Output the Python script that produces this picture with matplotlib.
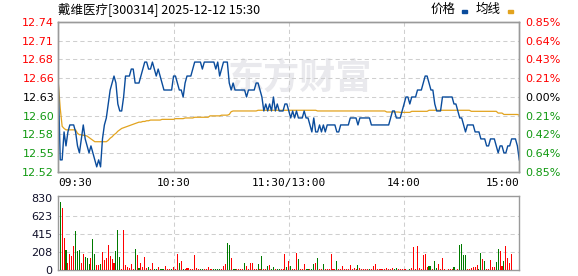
import matplotlib
matplotlib.use("Agg")
import matplotlib.pyplot as plt
from matplotlib.patches import Rectangle

plt.rcParams['font.family'] = ['Noto Sans CJK SC', 'DejaVu Sans']

# --- data ---
stock_title = "戴维医疗[300314] 2025-12-12 15:30"
legend_names = ["价格", "均线"]
prev_close = 12.63
max_pct = 0.85
time_labels = ["09:30", "10:30", "11:30/13:00", "14:00", "15:00"]
vol_ticks = [0, 208, 415, 623, 830]

price = [
    12.65, 12.54, 12.54, 12.58, 12.56, 12.58, 12.59, 12.59, 12.59, 12.58,
    12.56, 12.55, 12.57, 12.59, 12.57, 12.56, 12.55, 12.56, 12.55, 12.54,
    12.53, 12.54, 12.53, 12.57, 12.59, 12.60, 12.62, 12.64, 12.65, 12.66,
    12.65, 12.62, 12.61, 12.61, 12.63, 12.66, 12.66, 12.66, 12.67, 12.67,
    12.65, 12.65, 12.65, 12.66, 12.67, 12.68, 12.68, 12.67, 12.67, 12.68,
    12.67, 12.66, 12.67, 12.66, 12.65, 12.64, 12.64, 12.64, 12.64, 12.64,
    12.66, 12.66, 12.65, 12.64, 12.64, 12.63, 12.65, 12.66, 12.66, 12.66,
    12.67, 12.68, 12.68, 12.68, 12.68, 12.67, 12.68, 12.68, 12.68, 12.68,
    12.68, 12.68, 12.67, 12.68, 12.66, 12.67, 12.68, 12.68, 12.68, 12.65,
    12.64, 12.65, 12.64, 12.64, 12.64, 12.64, 12.64, 12.64, 12.63, 12.64,
    12.64, 12.64, 12.64, 12.65, 12.65, 12.64, 12.63, 12.61, 12.62, 12.61,
    12.62, 12.61, 12.63, 12.61, 12.62, 12.61, 12.61, 12.61, 12.62, 12.62,
    12.61, 12.60, 12.61, 12.60, 12.61, 12.60, 12.60, 12.60, 12.61, 12.60,
    12.60, 12.59, 12.58, 12.60, 12.58, 12.58, 12.59, 12.58, 12.59, 12.58,
    12.59, 12.59, 12.59, 12.59, 12.59, 12.58, 12.58, 12.59, 12.59, 12.59,
    12.59, 12.59, 12.60, 12.60, 12.60, 12.60, 12.59, 12.60, 12.60, 12.60,
    12.60, 12.60, 12.60, 12.59, 12.59, 12.59, 12.59, 12.59, 12.59, 12.59,
    12.59, 12.59, 12.59, 12.60, 12.61, 12.61, 12.60, 12.60, 12.60, 12.61,
    12.62, 12.63, 12.63, 12.62, 12.63, 12.63, 12.63, 12.64, 12.64, 12.64,
    12.65, 12.66, 12.66, 12.65, 12.64, 12.64, 12.62, 12.61, 12.61, 12.61,
    12.63, 12.63, 12.63, 12.63, 12.63, 12.63, 12.62, 12.62, 12.61, 12.60,
    12.60, 12.59, 12.58, 12.59, 12.59, 12.59, 12.59, 12.58, 12.58, 12.58,
    12.57, 12.57, 12.57, 12.56, 12.56, 12.57, 12.57, 12.57, 12.56, 12.55,
    12.56, 12.56, 12.55, 12.55, 12.56, 12.56, 12.57, 12.57, 12.57, 12.56,
    12.54,
]

avg_price = (
    [12.650, 12.614, 12.588, 12.585] + [12.583] * 6
    + [12.578, 12.576, 12.576, 12.575, 12.575, 12.574, 12.572, 12.570, 12.568]
    + [12.566] * 7
    + [12.568, 12.571, 12.573, 12.576, 12.578, 12.581, 12.583, 12.585, 12.586,
       12.587, 12.588, 12.589, 12.590, 12.591, 12.592, 12.593, 12.594, 12.594,
       12.595, 12.595, 12.596, 12.596]
    + [12.597] * 6 + [12.598] * 7
    + [12.599] * 5 + [12.600] * 5 + [12.601] * 8 + [12.603] * 6
    + [12.604] * 4 + [12.605, 12.609]
    + [12.610] * 13 + [12.611] * 31
    + [12.610] * 36 + [12.6085] * 7
    + [12.608] * 6 + [12.6095] * 9 + [12.611] * 22 + [12.6095] * 14
    + [12.607] * 3 + [12.605] * 8 + [12.604]
)

volume = [
    0,
    785, 716, 370, 231, 81, 185, 162, 277, 450, 219,
    231, 81, 185, 146, 139, 69, 139, 358, 185, 58,
    54, 69, 208, 115, 139, 289, 162, 127, 81, 219,
    462, 150, 12, 462, 58, 35, 23, 69, 12, 243,
    173, 23, 81, 35, 150, 23, 35, 12, 81, 12,
    12, 35, 12, 12, 12, 46, 12, 12, 12, 40,
    12, 185, 81, 104, 12, 12, 23, 23, 12, 12,
    173, 23, 12, 12, 12, 12, 12, 35, 12, 12,
    12, 12, 12, 12, 12, 46, 69, 312, 289, 139,
    12, 12, 12, 12, 12, 12, 81, 46, 12, 81,
    81, 12, 12, 69, 12, 162, 12, 12, 46, 58,
    12, 35, 12, 12, 12, 12, 12, 185, 35, 104,
    46, 12, 12, 196, 127, 12, 12, 69, 12, 12,
    12, 12, 69, 81, 139, 12, 12, 69, 12, 12,
    12, 185, 12, 12, 104, 12, 12, 46, 12, 12,
    12, 58, 12, 23, 12, 58, 23, 12, 12, 12,
    12, 12, 12, 46, 69, 12, 12, 12, 12, 12,
    23, 12, 12, 23, 12, 23, 12, 12, 12, 12,
    12, 0, 12, 23, 266, 12, 277, 23, 12, 173,
    185, 35, 46, 46, 12, 104, 23, 69, 12, 139,
    12, 0, 12, 12, 12, 35, 0, 12, 289, 300,
    173, 173, 12, 12, 23, 35, 35, 58, 12, 196,
    127, 104, 12, 12, 115, 35, 35, 92, 243, 220,
    46, 104, 277, 139, 81, 185, 0, 0, 0, 346,
]

# R = up minute, G = down minute
vol_dir = ("R"
           "GRRGRRRRGG" "GRRGGGRGGR" "RGRRRRRRRG" "GGRRRRRRRG" "RGRRRRGRRG"
           "GRGGGRRRGR" "RRGRGRRRRR" "RRRGGRRRRR" "GGGGRRRGGR" "GGRRRRGRRR"
           "RRRGRGRRGR" "GGRGGRRRGR" "GRRRGRRRGG" "RGGRGRRGRR" "RRRRGRRRRR"
           "RRRRRGRRRR" "RGRRRRRRRR" "RRRRGGRRRR" "RRGRRRRRRR" "RRGGRGGRRR"
           "RRRRRGRRGG" "GGRRRRRRGG" "RGRRRRRGGR" "RGRRRRRRRG")

n = len(price)

W, H = 578, 276
fig = plt.figure(figsize=(W / 100, H / 100), dpi=100)
fig.patch.set_facecolor('white')

grid_kw = dict(color='#cfcfcf', lw=0.75, ls=(0, (4, 3)), zorder=1)
spine_color = '#9a9a9a'
red, green, black = '#ff0000', '#119911', '#000000'

# price panel
ax = fig.add_axes([58.3 / W, 1 - 172 / H, 461 / W, 150 / H])
ax.set_facecolor('none')
x = list(range(n))
lo = prev_close * (1 - max_pct / 100)
hi = prev_close * (1 + max_pct / 100)
ax.set_xlim(0, n - 1)
ax.set_ylim(lo, hi)

yticks = [prev_close * (1 + k * max_pct / 400) for k in range(-4, 5)]
for yv in yticks[1:-1]:
    ax.axhline(yv, **grid_kw)
for xv in (60, 120, 180):
    ax.axvline(xv, **grid_kw)

ax.plot(x, avg_price, color='#e2a31e', lw=0.9, zorder=3)
ax.plot(x, price, color='#0a4c9c', lw=1.0, zorder=4)

ax.set_xticks([])
ax.set_yticks(yticks)
ax.set_yticklabels([f"{v:.2f}" for v in yticks])
ax.tick_params(axis='y', length=0, pad=3, labelsize=8)
for lab, v in zip(ax.get_yticklabels(), yticks):
    k = round((v - prev_close) / (prev_close * max_pct / 400))
    lab.set_color(red if k > 0 else (black if k == 0 else green))
    lab.set_fontfamily('DejaVu Sans')

ax2 = ax.twinx()
ax2.set_ylim(lo, hi)
ax2.set_yticks(yticks)
ax2.set_yticklabels([f"{abs(v - prev_close) / prev_close * 100:.2f}%" for v in yticks])
ax2.tick_params(axis='y', length=0, pad=4, labelsize=8)
for lab, v in zip(ax2.get_yticklabels(), yticks):
    k = round((v - prev_close) / (prev_close * max_pct / 400))
    lab.set_color(red if k > 0 else (black if k == 0 else green))
    lab.set_fontfamily('DejaVu Sans')

for a in (ax, ax2):
    for s in a.spines.values():
        s.set_color(spine_color)
        s.set_linewidth(1.0)

# time labels
tpos = [0, 60, 120, 180, 240]
aligns = ['left', 'center', 'center', 'center', 'right']
for t, lab, ha in zip(tpos, time_labels, aligns):
    ax.text(t, -0.075, lab, transform=ax.get_xaxis_transform(), ha=ha, va='center',
            fontsize=8, family='DejaVu Sans Mono', color='black')

# watermark
ax.text(300 / W, 1 - 78 / H, "东方财富", transform=fig.transFigure, ha='center',
        va='center', fontsize=26, fontweight='bold', color='#e9e9ed', zorder=0.5,
        family=['Noto Sans CJK SC'])

# volume panel
vax = fig.add_axes([58.3 / W, 1 - 270 / H, 461 / W, 74 / H])
vax.set_xlim(0, n - 1)
vax.set_ylim(0, 855)
for yv in vol_ticks[1:-1]:
    vax.axhline(yv, **grid_kw)
for xv in (60, 120, 180):
    vax.axvline(xv, **grid_kw)
colors = [red if d == 'R' else '#007a00' for d in vol_dir]
vax.bar(x, volume, width=0.55, color=colors, zorder=3)
vax.set_xticks([])
vax.set_yticks(vol_ticks)
vax.set_yticklabels([str(v) for v in vol_ticks])
vax.tick_params(axis='y', length=0, pad=4, labelsize=8, labelcolor='#10102a')
for lab in vax.get_yticklabels():
    lab.set_fontfamily('DejaVu Sans')
for s in vax.spines.values():
    s.set_color(spine_color)
    s.set_linewidth(1.0)

# title and legend
fig.text(58 / W, 1 - 9 / H, stock_title, ha='left', va='center', fontsize=9)
fig.text(443 / W, 1 - 9 / H, legend_names[0], ha='center', va='center', fontsize=9)
fig.text(488 / W, 1 - 9 / H, legend_names[1], ha='center', va='center', fontsize=9)
fig.patches.append(Rectangle((462 / W, 1 - 13 / H), 5 / W, 3 / H,
                             transform=fig.transFigure, color='#0a4c9c'))
fig.patches.append(Rectangle((508 / W, 1 - 13 / H), 5 / W, 3 / H,
                             transform=fig.transFigure, color='#e2a31e'))

fig.savefig('out.png', dpi=100)
